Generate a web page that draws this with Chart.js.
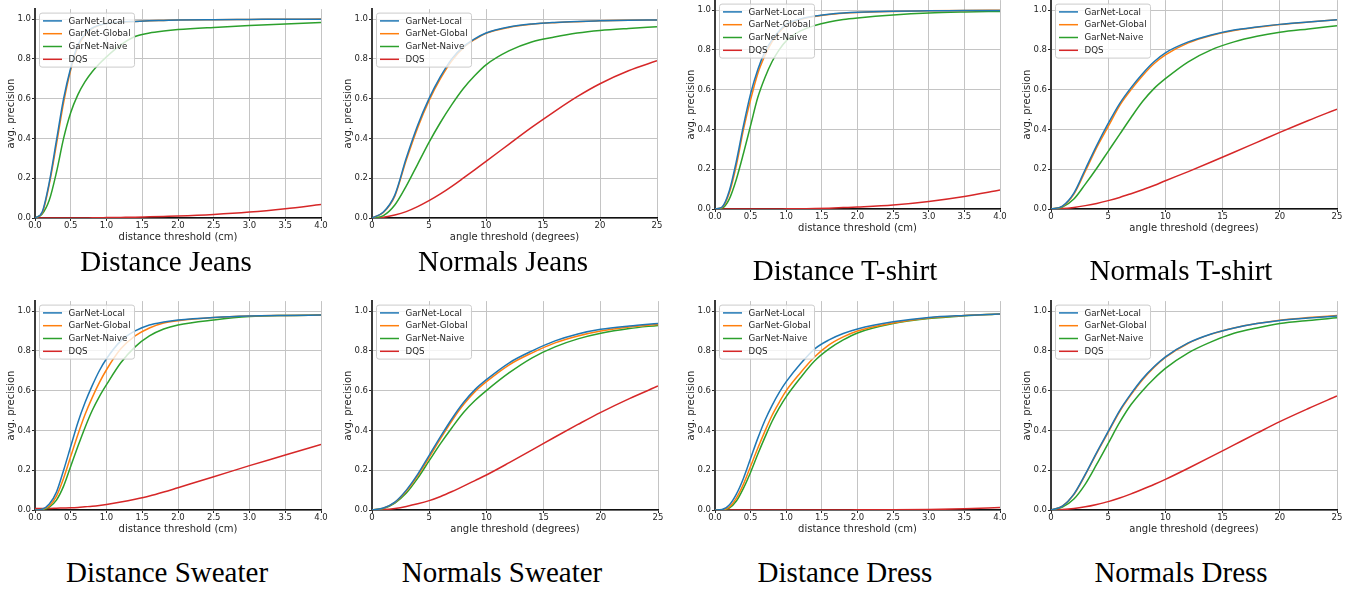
<!DOCTYPE html>
<html>
<head>
<meta charset="utf-8">
<script src="https://cdn.jsdelivr.net/npm/chart.js@4.4.0/dist/chart.umd.min.js"></script>
<style>
  body { margin: 0; background: #fff; width: 1360px; height: 593px; position: relative; overflow: hidden; }
  canvas { position: absolute; }
  .cap {
    position: absolute; white-space: nowrap; transform: translateX(-50%);
    font-family: "Liberation Serif", "Times New Roman", serif; font-size: 29px; line-height: 29px; color: #000;
  }
</style>
</head>
<body>
<script>
// x samples and ticks
const distX = [0, 0.1, 0.2, 0.3, 0.4, 0.5, 0.6, 0.7, 0.8, 0.9, 1.0, 1.2, 1.4, 1.6, 1.8, 2.0, 2.5, 3.0, 3.5, 4.0];
const angleX = [0, 1, 2, 3, 4, 5, 6, 7, 8, 9, 10, 12, 14, 16, 18, 20, 22.5, 25];
const distTicks = [0, 0.5, 1, 1.5, 2, 2.5, 3, 3.5, 4];
const angleTicks = [0, 5, 10, 15, 20, 25];
const yTicks = [0, 0.2, 0.4, 0.6, 0.8, 1.0];

const methods = ["GarNet-Local", "GarNet-Global", "GarNet-Naive", "DQS"];
const colors = ["#1f77b4", "#ff7f0e", "#2ca02c", "#d62728"];

// Jeans
const jeansDistLocal  = [0, 0.03, 0.18, 0.39, 0.6, 0.755, 0.87, 0.925, 0.955, 0.97, 0.978, 0.985, 0.988, 0.991, 0.993, 0.995, 0.997, 0.998, 0.999, 0.999];
const jeansDistGlobal = [0, 0.025, 0.17, 0.37, 0.58, 0.745, 0.86, 0.92, 0.952, 0.968, 0.977, 0.984, 0.988, 0.991, 0.993, 0.995, 0.997, 0.998, 0.999, 1.0];
const jeansDistNaive  = [0, 0.02, 0.09, 0.23, 0.4, 0.53, 0.62, 0.685, 0.735, 0.775, 0.81, 0.87, 0.912, 0.93, 0.94, 0.947, 0.958, 0.967, 0.975, 0.983];
const jeansDistDqs    = [0, 0, 0, 0, 0, 0, 0, 0, 0.001, 0.001, 0.002, 0.003, 0.004, 0.006, 0.008, 0.01, 0.018, 0.03, 0.047, 0.068];

const jeansAngLocal  = [0, 0.03, 0.115, 0.3, 0.465, 0.6, 0.71, 0.8, 0.86, 0.9, 0.93, 0.96, 0.975, 0.983, 0.988, 0.991, 0.994, 0.995];
const jeansAngGlobal = [0, 0.028, 0.11, 0.29, 0.453, 0.59, 0.7, 0.79, 0.855, 0.897, 0.928, 0.958, 0.974, 0.982, 0.987, 0.991, 0.994, 0.995];
const jeansAngNaive  = [0, 0.012, 0.065, 0.16, 0.27, 0.38, 0.48, 0.57, 0.65, 0.715, 0.77, 0.84, 0.885, 0.91, 0.93, 0.943, 0.953, 0.961];
const jeansAngDqs    = [0, 0.004, 0.015, 0.032, 0.057, 0.087, 0.121, 0.159, 0.2, 0.242, 0.285, 0.37, 0.455, 0.535, 0.61, 0.675, 0.74, 0.79];

// T-shirt
const tshirtDistLocal  = [0, 0.01, 0.09, 0.24, 0.42, 0.58, 0.7, 0.79, 0.85, 0.895, 0.928, 0.955, 0.97, 0.979, 0.985, 0.989, 0.994, 0.996, 0.998, 0.998];
const tshirtDistGlobal = [0, 0.008, 0.08, 0.22, 0.4, 0.55, 0.68, 0.77, 0.84, 0.888, 0.923, 0.952, 0.968, 0.978, 0.984, 0.988, 0.993, 0.996, 0.998, 0.999];
const tshirtDistNaive  = [0, 0.005, 0.05, 0.15, 0.28, 0.42, 0.56, 0.66, 0.74, 0.8, 0.845, 0.895, 0.922, 0.94, 0.952, 0.96, 0.975, 0.985, 0.99, 0.993];
const tshirtDistDqs    = [0, 0, 0, 0, 0, 0, 0, 0, 0, 0, 0.001, 0.001, 0.002, 0.004, 0.007, 0.01, 0.02, 0.038, 0.063, 0.095];

const tshirtAngLocal  = [0, 0.015, 0.08, 0.2, 0.32, 0.43, 0.53, 0.61, 0.68, 0.74, 0.785, 0.84, 0.875, 0.9, 0.915, 0.928, 0.94, 0.951];
const tshirtAngGlobal = [0, 0.013, 0.075, 0.19, 0.31, 0.415, 0.52, 0.6, 0.67, 0.73, 0.775, 0.835, 0.872, 0.897, 0.913, 0.927, 0.94, 0.951];
const tshirtAngNaive  = [0, 0.01, 0.05, 0.125, 0.205, 0.29, 0.375, 0.46, 0.54, 0.605, 0.655, 0.74, 0.8, 0.84, 0.868, 0.888, 0.905, 0.921];
const tshirtAngDqs    = [0, 0.002, 0.008, 0.017, 0.028, 0.042, 0.058, 0.077, 0.097, 0.118, 0.142, 0.188, 0.236, 0.285, 0.335, 0.385, 0.445, 0.502];

// Sweater
const sweaterDistLocal  = [0, 0.004, 0.03, 0.09, 0.2, 0.32, 0.44, 0.54, 0.625, 0.7, 0.76, 0.85, 0.9, 0.93, 0.945, 0.955, 0.968, 0.975, 0.978, 0.98];
const sweaterDistGlobal = [0, 0.003, 0.02, 0.07, 0.16, 0.27, 0.38, 0.48, 0.565, 0.64, 0.705, 0.81, 0.875, 0.915, 0.94, 0.951, 0.967, 0.975, 0.978, 0.98];
const sweaterDistNaive  = [0, 0.002, 0.015, 0.05, 0.12, 0.22, 0.32, 0.415, 0.5, 0.57, 0.63, 0.74, 0.82, 0.875, 0.91, 0.93, 0.955, 0.972, 0.978, 0.98];
const sweaterDistDqs    = [0.008, 0.008, 0.008, 0.009, 0.01, 0.011, 0.013, 0.016, 0.019, 0.023, 0.028, 0.04, 0.054, 0.07, 0.09, 0.112, 0.167, 0.223, 0.276, 0.33];

const sweaterAngLocal  = [0, 0.01, 0.04, 0.1, 0.18, 0.275, 0.37, 0.46, 0.54, 0.605, 0.655, 0.74, 0.8, 0.85, 0.885, 0.908, 0.925, 0.938];
const sweaterAngGlobal = [0, 0.009, 0.038, 0.095, 0.173, 0.265, 0.36, 0.45, 0.53, 0.595, 0.645, 0.73, 0.79, 0.84, 0.875, 0.9, 0.92, 0.932];
const sweaterAngNaive  = [0, 0.008, 0.035, 0.085, 0.16, 0.248, 0.335, 0.415, 0.49, 0.55, 0.6, 0.69, 0.765, 0.82, 0.86, 0.888, 0.912, 0.928];
const sweaterAngDqs    = [0, 0.002, 0.008, 0.018, 0.031, 0.047, 0.068, 0.093, 0.12, 0.148, 0.176, 0.238, 0.302, 0.367, 0.43, 0.491, 0.56, 0.623];

// Dress
const dressDistLocal  = [0, 0.002, 0.025, 0.08, 0.16, 0.26, 0.36, 0.45, 0.525, 0.59, 0.645, 0.735, 0.81, 0.855, 0.887, 0.91, 0.946, 0.968, 0.978, 0.985];
const dressDistGlobal = [0, 0.001, 0.015, 0.06, 0.13, 0.22, 0.31, 0.395, 0.475, 0.54, 0.6, 0.69, 0.77, 0.83, 0.87, 0.9, 0.94, 0.965, 0.977, 0.985];
const dressDistNaive  = [0, 0.001, 0.01, 0.045, 0.11, 0.19, 0.28, 0.365, 0.445, 0.512, 0.57, 0.665, 0.75, 0.81, 0.855, 0.89, 0.937, 0.962, 0.976, 0.985];
const dressDistDqs    = [0, 0, 0, 0, 0, 0, 0, 0, 0, 0, 0, 0, 0, 0, 0, 0.001, 0.001, 0.002, 0.006, 0.013];

const dressAngLocal  = [0, 0.02, 0.08, 0.18, 0.29, 0.395, 0.5, 0.585, 0.66, 0.72, 0.77, 0.84, 0.885, 0.915, 0.937, 0.953, 0.965, 0.975];
const dressAngGlobal = [0, 0.02, 0.078, 0.177, 0.286, 0.39, 0.495, 0.58, 0.655, 0.717, 0.767, 0.838, 0.884, 0.915, 0.937, 0.954, 0.967, 0.978];
const dressAngNaive  = [0, 0.015, 0.055, 0.13, 0.23, 0.335, 0.44, 0.53, 0.6, 0.66, 0.712, 0.79, 0.845, 0.888, 0.915, 0.937, 0.953, 0.966];
const dressAngDqs    = [0, 0.002, 0.007, 0.016, 0.028, 0.042, 0.06, 0.081, 0.104, 0.128, 0.154, 0.21, 0.268, 0.327, 0.386, 0.444, 0.51, 0.573];

const panels = [
  { title: "Distance Jeans",   kind: "dist",  series: [jeansDistLocal, jeansDistGlobal, jeansDistNaive, jeansDistDqs] },
  { title: "Normals Jeans",    kind: "angle", series: [jeansAngLocal, jeansAngGlobal, jeansAngNaive, jeansAngDqs] },
  { title: "Distance T-shirt", kind: "dist",  series: [tshirtDistLocal, tshirtDistGlobal, tshirtDistNaive, tshirtDistDqs] },
  { title: "Normals T-shirt",  kind: "angle", series: [tshirtAngLocal, tshirtAngGlobal, tshirtAngNaive, tshirtAngDqs] },
  { title: "Distance Sweater", kind: "dist",  series: [sweaterDistLocal, sweaterDistGlobal, sweaterDistNaive, sweaterDistDqs] },
  { title: "Normals Sweater",  kind: "angle", series: [sweaterAngLocal, sweaterAngGlobal, sweaterAngNaive, sweaterAngDqs] },
  { title: "Distance Dress",   kind: "dist",  series: [dressDistLocal, dressDistGlobal, dressDistNaive, dressDistDqs] },
  { title: "Normals Dress",    kind: "angle", series: [dressAngLocal, dressAngGlobal, dressAngNaive, dressAngDqs] },
];

// page layout: plot box [left, right, top, bottom] and caption [centerX, baseline]
const layout = [
  { plot: [35, 321, 9, 218],      cap: [166, 271] },
  { plot: [372, 657, 9, 218],     cap: [503, 271] },
  { plot: [715, 1000, 0, 209],    cap: [845, 280] },
  { plot: [1051, 1337, 0, 209],   cap: [1181, 280] },
  { plot: [35, 321, 301, 510],    cap: [167, 582] },
  { plot: [372, 658, 301, 510],   cap: [502, 582] },
  { plot: [715, 1000, 301, 510],  cap: [845, 582] },
  { plot: [1051, 1337, 301, 510], cap: [1181, 582] },
];

const YW = 35, RP = 12, TP = 6, XH = 32;
const ink = "#262626";

Chart.defaults.font.family = "'DejaVu Sans', sans-serif";

// matplotlib-like legend box drawn over the lines, top-left of the plot
const boxLegend = {
  id: "boxLegend",
  afterDatasetsDraw(chart) {
    const { ctx, chartArea } = chart;
    const items = chart.data.datasets;
    ctx.save();
    ctx.font = "8.7px 'DejaVu Sans'";
    const tw = Math.max(...items.map((d) => ctx.measureText(d.label).width));
    const x = chartArea.left + 4.5, y = chartArea.top + 4;
    const w = 29 + tw + 4, h = 54;
    ctx.beginPath();
    ctx.roundRect(x, y, w, h, 2.5);
    ctx.fillStyle = "rgba(255,255,255,0.8)";
    ctx.fill();
    ctx.strokeStyle = "#cccccc";
    ctx.lineWidth = 1;
    ctx.stroke();
    items.forEach((d, i) => {
      const cy = y + 7.8 + i * 12.8;
      ctx.beginPath();
      ctx.moveTo(x + 3.5, cy);
      ctx.lineTo(x + 22.5, cy);
      ctx.strokeStyle = d.borderColor;
      ctx.lineWidth = 1.5;
      ctx.stroke();
      ctx.fillStyle = ink;
      ctx.textBaseline = "middle";
      ctx.fillText(d.label, x + 29, cy + 0.5);
    });
    ctx.restore();
  },
};

function makeChart(p, g) {
  const [pl, pr, pt, pb] = g.plot;
  const w = YW + (pr - pl) + RP;
  const h = TP + (pb - pt) + XH;
  const cv = document.createElement("canvas");
  cv.width = w;
  cv.height = h;
  cv.style.left = pl - YW + "px";
  cv.style.top = pt - TP + "px";
  cv.style.width = w + "px";
  cv.style.height = h + "px";
  document.body.appendChild(cv);

  const isDist = p.kind === "dist";
  const xs = isDist ? distX : angleX;
  const xt = isDist ? distTicks : angleTicks;

  new Chart(cv, {
    type: "line",
    data: {
      datasets: p.series.map((ys, i) => ({
        label: methods[i],
        data: xs.map((x, j) => ({ x, y: ys[j] })),
        borderColor: colors[i],
        backgroundColor: colors[i],
        borderWidth: 1.5,
        pointRadius: 0,
        cubicInterpolationMode: "monotone",
      })),
    },
    options: {
      responsive: false,
      animation: false,
      devicePixelRatio: 1,
      layout: { padding: { left: 0, right: RP, top: TP, bottom: 0 } },
      plugins: { legend: { display: false }, tooltip: { enabled: false } },
      scales: {
        x: {
          type: "linear",
          min: 0,
          max: xt[xt.length - 1],
          afterFit: (s) => { s.height = XH; },
          afterBuildTicks: (s) => { s.ticks = xt.map((v) => ({ value: v })); },
          ticks: {
            callback: (v) => (isDist ? v.toFixed(1) : String(v)),
            font: { size: 8.5 },
            color: ink,
            padding: 0,
            maxRotation: 0,
            autoSkip: false,
          },
          grid: { color: "#c4c4c4", lineWidth: 1, tickLength: 3, tickColor: ink, tickWidth: 1 },
          border: { color: "#111", width: 1.5 },
          title: {
            display: true,
            text: isDist ? "distance threshold (cm)" : "angle threshold (degrees)",
            font: { size: 10 },
            color: ink,
            padding: { top: 0, bottom: 6.5 },
          },
        },
        y: {
          type: "linear",
          min: 0,
          max: 1.05,
          afterFit: (s) => { s.width = YW; },
          afterBuildTicks: (s) => { s.ticks = yTicks.map((v) => ({ value: v })); },
          ticks: {
            callback: (v) => v.toFixed(1),
            font: { size: 8.5 },
            color: ink,
            padding: 1,
          },
          grid: { color: "#c4c4c4", lineWidth: 1, tickLength: 3, tickColor: ink, tickWidth: 1 },
          border: { color: "#3a3a3a", width: 2 },
          title: {
            display: true,
            text: "avg. precision",
            font: { size: 10 },
            color: ink,
            padding: { top: 5.5, bottom: 0 },
          },
        },
      },
    },
    plugins: [boxLegend],
  });

  const cap = document.createElement("div");
  cap.className = "cap";
  cap.textContent = p.title;
  cap.style.left = g.cap[0] + "px";
  cap.style.top = g.cap[1] - 24.3 + "px";
  document.body.appendChild(cap);
}

panels.forEach((p, i) => makeChart(p, layout[i]));
</script>
</body>
</html>
